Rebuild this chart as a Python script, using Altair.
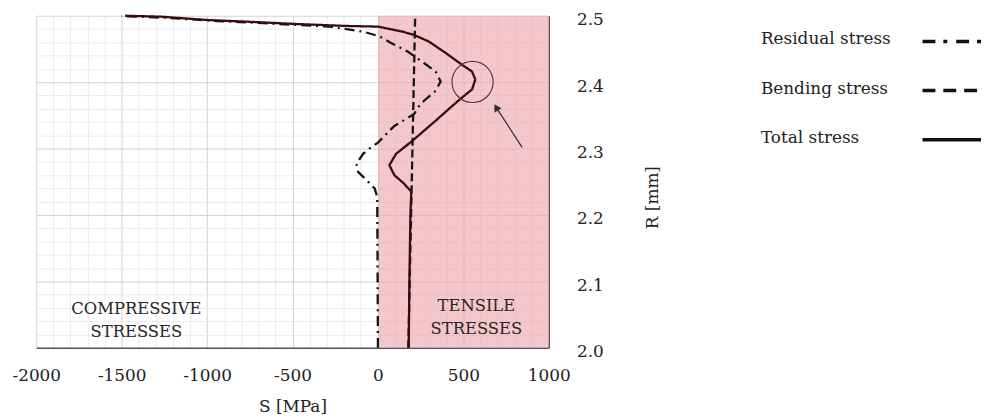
import altair as alt
import pandas as pd

FONT = "DejaVu Serif"

# ---- data ----
residual_R = [2.000, 2.227, 2.240, 2.255, 2.265, 2.277, 2.292, 2.302, 2.309, 2.334, 2.352,
              2.364, 2.372, 2.387, 2.401, 2.416, 2.434, 2.446, 2.459, 2.469, 2.476, 2.480,
              2.4835, 2.486, 2.490, 2.492, 2.497, 2.4995]
residual_S = [0, -4, -19, -77, -116, -126, -87, -39, 0, 96, 212,
              241, 270, 338, 367, 338, 241, 174, 77, 9, -87, -184,
              -282, -473, -763, -940, -1250, -1500]

bending_R = [2.0, 2.5]
bending_S = [178, 218]

total_R = [2.000, 2.100, 2.200, 2.235, 2.247, 2.260, 2.275, 2.292, 2.312, 2.342, 2.363,
           2.377, 2.389, 2.404, 2.416, 2.426, 2.444, 2.461, 2.471, 2.476, 2.4836, 2.4846,
           2.4875, 2.491, 2.4935, 2.4985, 2.500]
total_S = [180, 184, 190, 195, 154, 96, 67, 106, 203, 338, 430,
           493, 551, 570, 551, 493, 396, 299, 212, 145, 0, -184,
           -473, -763, -995, -1266, -1480]

series_names = ["Residual stress", "Bending stress", "Total stress"]
series_colors = ["#141414", "#141414", "#3a0b0b"]
plot_dashes = [[10, 5, 2, 5], [8, 4], [1, 0]]
legend_dashes = [[13, 8, 4, 9], [13, 8], [1, 0]]

tensile_S = [0, 1000]
region_R = [2.0, 2.5]

region_texts = ["COMPRESSIVE\nSTRESSES", "TENSILE\nSTRESSES"]
region_text_S = [-1414, 576]
region_text_R = [2.0587, 2.0631]

circle_S = [554]
circle_R = [2.4003]

arrow_S = [844, 692]
arrow_R = [2.3019, 2.362]

# ---- tables ----
rows = []
for name, Rs, Ss in [(series_names[0], residual_R, residual_S),
                     (series_names[1], bending_R, bending_S),
                     (series_names[2], total_R, total_S)]:
    for i, (r, s) in enumerate(zip(Rs, Ss)):
        rows.append({"series": name, "R": r, "S": s, "i": i})
lines_df = pd.DataFrame(rows)

region_df = pd.DataFrame({"S0": [tensile_S[0]], "S1": [tensile_S[1]],
                          "R0": [region_R[0]], "R1": [region_R[1]]})
text_df = pd.DataFrame({"t": region_texts, "S": region_text_S, "R": region_text_R})
circle_df = pd.DataFrame({"S": circle_S, "R": circle_R})
arrow_df = pd.DataFrame({"S": arrow_S, "R": arrow_R, "i": list(range(len(arrow_S)))})
head_df = arrow_df.tail(1)
legend_df = pd.DataFrame({"label": series_names})

# ---- scales & axes ----
xscale = alt.Scale(domain=[-2000, 1000], nice=False, zero=False)
yscale = alt.Scale(domain=[2.0, 2.5], nice=False, zero=False)

xaxis = alt.Axis(
    values=list(range(-2000, 1001, 100)),
    labelExpr="datum.value % 500 === 0 ? '' + datum.value : ''",
    labelOverlap=False, labelFlush=False,
    grid=True,
    gridColor={"condition": {"test": "datum.value % 500 === 0", "value": "#d2d2d2"}, "value": "#ebebeb"},
    gridWidth=1,
    ticks=False, tickSize=0,
    domainColor="#555555", domainWidth=1.5,
    labelFont=FONT, labelFontSize=17, labelColor="#222222", labelPadding=20,
    title="S [MPa]", titleFont=FONT, titleFontSize=17, titleFontWeight="normal",
    titleColor="#222222", titleY=64, titleBaseline="alphabetic",
)

yvals = [round(2.0 + 0.02 * k, 2) for k in range(26)]
ytest = "abs(datum.value*10 - round(datum.value*10)) < 0.001"
yaxis = alt.Axis(
    orient="right",
    values=yvals, format=".1f",
    labelExpr=f"{ytest} ? datum.label : ''",
    labelOverlap=False, labelFlush=False,
    grid=True,
    gridColor={"condition": {"test": ytest, "value": "#d2d2d2"}, "value": "#ebebeb"},
    gridWidth=1,
    ticks=False, tickSize=0,
    domainColor="#555555", domainWidth=1.5,
    labelFont=FONT, labelFontSize=17, labelColor="#222222", labelPadding=28,
    labelOffset=4,
    title="R [mm]", titleFont=FONT, titleFontSize=17, titleFontWeight="normal",
    titleColor="#222222", titleAngle=270, titleX=110, titleY=183,
    titleAlign="center", titleBaseline="alphabetic",
)

# ---- main layers ----
region = alt.Chart(region_df).mark_rect(color="#eba5ad", opacity=0.62).encode(
    x=alt.X("S0:Q", scale=xscale, axis=xaxis),
    x2="S1:Q",
    y=alt.Y("R0:Q", scale=yscale, axis=yaxis),
    y2="R1:Q",
)

lines = alt.Chart(lines_df).mark_line(strokeWidth=2.3).encode(
    x=alt.X("S:Q", scale=xscale, axis=xaxis),
    y=alt.Y("R:Q", scale=yscale, axis=yaxis),
    order="i:Q",
    detail="series:N",
    color=alt.Color("series:N", scale=alt.Scale(domain=series_names, range=series_colors), legend=None),
    strokeDash=alt.StrokeDash("series:N", scale=alt.Scale(domain=series_names, range=plot_dashes), legend=None),
)

texts = alt.Chart(text_df).mark_text(
    font=FONT, fontSize=16.5, lineBreak="\n", lineHeight=23.5,
    align="center", baseline="middle", color="#262626",
).encode(
    x=alt.X("S:Q", scale=xscale, axis=xaxis),
    y=alt.Y("R:Q", scale=yscale, axis=yaxis),
    text="t:N",
)

circle = alt.Chart(circle_df).mark_point(
    shape="circle", filled=False, size=1720, stroke="#6a3434", strokeWidth=1.2, opacity=1,
).encode(
    x=alt.X("S:Q", scale=xscale, axis=xaxis),
    y=alt.Y("R:Q", scale=yscale, axis=yaxis),
)

arrow = alt.Chart(arrow_df).mark_line(color="#333333", strokeWidth=1.3).encode(
    x=alt.X("S:Q", scale=xscale, axis=xaxis),
    y=alt.Y("R:Q", scale=yscale, axis=yaxis),
    order="i:Q",
)

head = alt.Chart(head_df).mark_point(
    shape="triangle-up", filled=True, size=70, angle=327, color="#333333", opacity=1,
).encode(
    x=alt.X("S:Q", scale=xscale, axis=xaxis),
    y=alt.Y("R:Q", scale=yscale, axis=yaxis),
)

main = alt.layer(region, lines, texts, circle, arrow, head)

# ---- legend (drawn to the right of the plot) ----
legend_y = alt.Y("label:N", sort=series_names,
                 scale=alt.Scale(type="point", range=[26, 125], padding=0), axis=None)

legend_text = alt.Chart(legend_df).mark_text(
    font=FONT, fontSize=17, align="left", baseline="middle", dy=-2, color="#222222",
).encode(
    x=alt.value(731),
    y=legend_y,
    text="label:N",
)

legend_rule = alt.Chart(legend_df).mark_rule(strokeWidth=3.5, color="#111111").encode(
    x=alt.value(894),
    x2=alt.value(960),
    y=legend_y,
    strokeDash=alt.StrokeDash("label:N", scale=alt.Scale(domain=series_names, range=legend_dashes), legend=None),
)

legend = alt.layer(legend_text, legend_rule)

chart = alt.layer(main, legend).resolve_scale(
    y="independent", strokeDash="independent", color="independent"
).properties(
    width=517, height=335,
    autosize=alt.AutoSizeParams(type="none"),
    padding={"left": 28.5, "top": 6, "right": 436, "bottom": 69},
    background="white",
).configure_view(stroke=None)

chart.save("out.html", embed_options={"renderer": "svg", "actions": False})
